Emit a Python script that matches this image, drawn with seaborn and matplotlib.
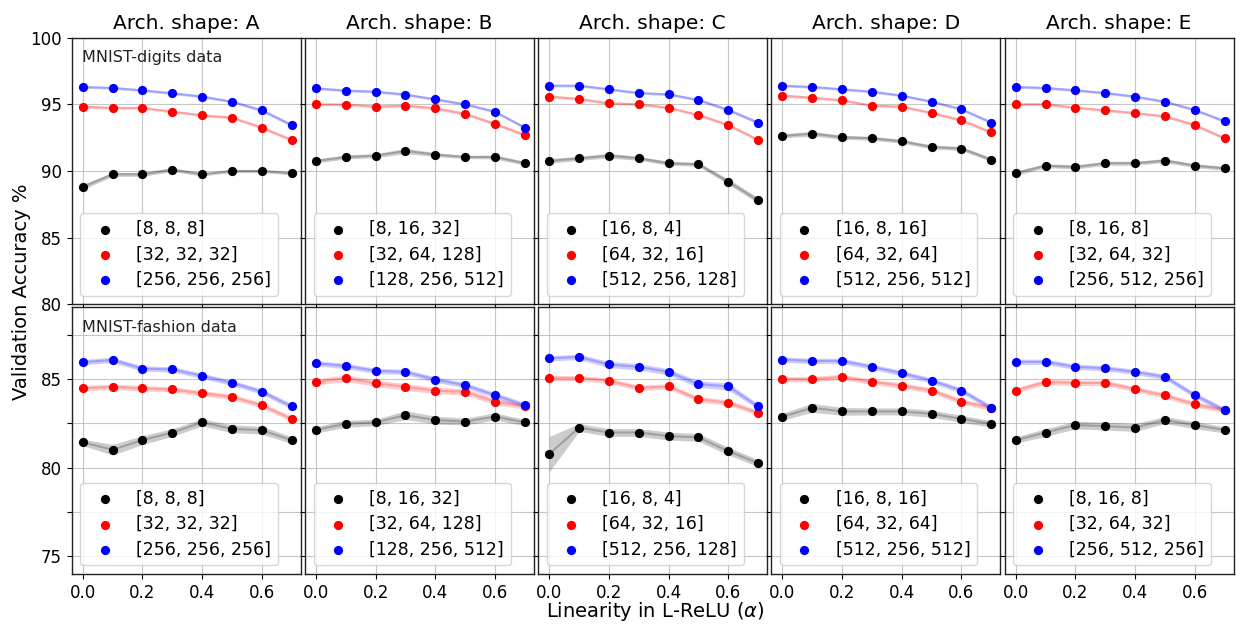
import matplotlib
matplotlib.use("Agg")
import matplotlib.pyplot as plt
import seaborn as sns
import pandas as pd
from matplotlib.ticker import MultipleLocator, FuncFormatter

# ---------------- data ----------------
alphas = [0.0, 0.1, 0.2, 0.3, 0.4, 0.5, 0.6, 0.7]
shapes = ["A", "B", "C", "D", "E"]
colors = ["black", "red", "blue"]

arch_A = ["[8, 8, 8]", "[32, 32, 32]", "[256, 256, 256]"]
arch_B = ["[8, 16, 32]", "[32, 64, 128]", "[128, 256, 512]"]
arch_C = ["[16, 8, 4]", "[64, 32, 16]", "[512, 256, 128]"]
arch_D = ["[16, 8, 16]", "[64, 32, 64]", "[512, 256, 512]"]
arch_E = ["[8, 16, 8]", "[32, 64, 32]", "[256, 512, 256]"]

# MNIST-digits (rows: black, red, blue)
digits_A = [[88.80, 89.75, 89.75, 90.10, 89.75, 90.00, 90.00, 89.83],
            [94.83, 94.73, 94.73, 94.45, 94.18, 94.00, 93.25, 92.33],
            [96.30, 96.23, 96.05, 95.83, 95.58, 95.20, 94.55, 93.45]]
digits_B = [[90.75, 91.05, 91.15, 91.50, 91.23, 91.05, 91.05, 90.58],
            [95.00, 94.98, 94.83, 94.90, 94.70, 94.28, 93.53, 92.70],
            [96.20, 96.03, 95.95, 95.73, 95.38, 95.00, 94.45, 93.25]]
digits_C = [[90.75, 90.95, 91.15, 90.95, 90.58, 90.50, 89.20, 87.80],
            [95.58, 95.40, 95.08, 95.00, 94.75, 94.20, 93.45, 92.33],
            [96.40, 96.40, 96.13, 95.85, 95.75, 95.33, 94.58, 93.63]]
digits_D = [[92.63, 92.80, 92.53, 92.45, 92.23, 91.80, 91.68, 90.85],
            [95.65, 95.50, 95.30, 94.90, 94.83, 94.35, 93.80, 92.90],
            [96.40, 96.30, 96.13, 95.95, 95.65, 95.20, 94.63, 93.63]]
digits_E = [[89.83, 90.40, 90.30, 90.58, 90.58, 90.78, 90.40, 90.20],
            [95.00, 95.00, 94.75, 94.55, 94.35, 94.10, 93.45, 92.45],
            [96.30, 96.23, 96.05, 95.85, 95.58, 95.20, 94.58, 93.73]]

# band half-widths, MNIST-digits
digits_A_err = [[0.20, 0.15, 0.15, 0.15, 0.12, 0.12, 0.12, 0.12],
                [0.12, 0.10, 0.10, 0.10, 0.10, 0.10, 0.12, 0.12],
                [0.10, 0.10, 0.10, 0.10, 0.10, 0.10, 0.12, 0.12]]
digits_B_err = [[0.15, 0.15, 0.15, 0.20, 0.15, 0.12, 0.15, 0.15],
                [0.10, 0.10, 0.10, 0.10, 0.12, 0.12, 0.12, 0.12],
                [0.10, 0.10, 0.10, 0.10, 0.10, 0.10, 0.10, 0.12]]
digits_C_err = [[0.18, 0.15, 0.18, 0.15, 0.15, 0.15, 0.20, 0.22],
                [0.12, 0.10, 0.10, 0.10, 0.10, 0.10, 0.12, 0.12],
                [0.10, 0.10, 0.10, 0.10, 0.10, 0.10, 0.12, 0.12]]
digits_D_err = [[0.15, 0.18, 0.15, 0.15, 0.15, 0.15, 0.15, 0.15],
                [0.12, 0.10, 0.10, 0.10, 0.10, 0.10, 0.12, 0.12],
                [0.10, 0.10, 0.10, 0.10, 0.10, 0.10, 0.10, 0.12]]
digits_E_err = [[0.18, 0.15, 0.15, 0.15, 0.15, 0.15, 0.15, 0.15],
                [0.10, 0.10, 0.10, 0.10, 0.10, 0.10, 0.12, 0.12],
                [0.10, 0.10, 0.10, 0.10, 0.10, 0.10, 0.10, 0.12]]

# MNIST-fashion (rows: black, red, blue)
fashion_A = [[81.43, 81.02, 81.56, 81.99, 82.56, 82.20, 82.12, 81.56],
             [84.49, 84.57, 84.49, 84.42, 84.21, 84.00, 83.53, 82.76],
             [85.96, 86.09, 85.60, 85.55, 85.19, 84.79, 84.30, 83.46]]
fashion_B = [[82.14, 82.48, 82.56, 82.97, 82.69, 82.61, 82.89, 82.56],
             [84.85, 85.06, 84.77, 84.57, 84.36, 84.29, 83.74, 83.46],
             [85.90, 85.75, 85.47, 85.41, 84.98, 84.66, 84.10, 83.53]]
fashion_C = [[80.77, 82.27, 81.99, 81.99, 81.79, 81.71, 80.94, 80.26],
             [85.06, 85.06, 84.92, 84.51, 84.59, 83.87, 83.67, 83.10],
             [86.18, 86.26, 85.83, 85.70, 85.41, 84.72, 84.59, 83.46]]
fashion_D = [[82.89, 83.38, 83.18, 83.18, 83.18, 83.05, 82.76, 82.48],
             [85.00, 85.00, 85.13, 84.85, 84.64, 84.36, 83.74, 83.38],
             [86.11, 86.03, 86.03, 85.70, 85.34, 84.92, 84.36, 83.38]]
fashion_E = [[81.56, 81.99, 82.41, 82.35, 82.27, 82.69, 82.41, 82.14],
             [84.36, 84.85, 84.79, 84.79, 84.44, 84.08, 83.59, 83.25],
             [85.98, 85.98, 85.70, 85.62, 85.41, 85.13, 84.10, 83.25]]

# band half-widths, MNIST-fashion
fashion_A_err = [[0.18, 0.30, 0.25, 0.22, 0.20, 0.22, 0.22, 0.20],
                 [0.15, 0.15, 0.15, 0.15, 0.15, 0.15, 0.15, 0.15],
                 [0.15, 0.15, 0.15, 0.15, 0.15, 0.15, 0.15, 0.15]]
fashion_B_err = [[0.18, 0.20, 0.18, 0.25, 0.22, 0.20, 0.20, 0.18],
                 [0.18, 0.18, 0.18, 0.18, 0.18, 0.18, 0.18, 0.15],
                 [0.15, 0.15, 0.15, 0.15, 0.15, 0.15, 0.15, 0.15]]
fashion_C_err = [[1.00, 0.22, 0.22, 0.22, 0.22, 0.22, 0.22, 0.20],
                 [0.15, 0.15, 0.15, 0.15, 0.15, 0.15, 0.15, 0.15],
                 [0.15, 0.15, 0.18, 0.18, 0.18, 0.18, 0.20, 0.15]]
fashion_D_err = [[0.20, 0.25, 0.22, 0.20, 0.20, 0.20, 0.20, 0.18],
                 [0.15, 0.15, 0.15, 0.15, 0.15, 0.15, 0.15, 0.15],
                 [0.15, 0.15, 0.15, 0.15, 0.15, 0.15, 0.15, 0.15]]
fashion_E_err = [[0.18, 0.22, 0.22, 0.22, 0.22, 0.20, 0.20, 0.18],
                 [0.15, 0.15, 0.15, 0.15, 0.15, 0.15, 0.15, 0.15],
                 [0.15, 0.15, 0.15, 0.15, 0.15, 0.15, 0.15, 0.15]]

archs = [arch_A, arch_B, arch_C, arch_D, arch_E]
digits = [digits_A, digits_B, digits_C, digits_D, digits_E]
digits_err = [digits_A_err, digits_B_err, digits_C_err, digits_D_err, digits_E_err]
fashion = [fashion_A, fashion_B, fashion_C, fashion_D, fashion_E]
fashion_err = [fashion_A_err, fashion_B_err, fashion_C_err, fashion_D_err, fashion_E_err]

# ---------------- figure ----------------
plt.rcParams["font.family"] = ["DejaVu Sans"]
fig, axes = plt.subplots(2, 5, figsize=(12.36, 6.27), dpi=100, sharex=True, sharey="row")
fig.subplots_adjust(left=0.058, right=0.998, top=0.940, bottom=0.0845,
                    wspace=0.019, hspace=0.011)

rows = [(digits, digits_err, "MNIST-digits data"),
        (fashion, fashion_err, "MNIST-fashion data")]

for r, (means_all, errs_all, tag) in enumerate(rows):
    for c in range(5):
        ax = axes[r, c]
        ax.set_axisbelow(True)
        ax.grid(True, color="#b0b0b0", lw=0.8, alpha=0.7)
        for s in range(3):
            mean = means_all[c][s]
            err = errs_all[c][s]
            recs = []
            for x, m, e in zip(alphas, mean, err):
                recs += [(x, m - e), (x, m), (x, m + e)]
            df = pd.DataFrame(recs, columns=["alpha", "acc"])
            sns.lineplot(data=df, x="alpha", y="acc", estimator="median",
                         errorbar=("pi", 100), color=colors[s], alpha=0.22,
                         lw=1.5, legend=False, ax=ax,
                         err_kws={"alpha": 0.2, "linewidth": 0})
            sns.scatterplot(x=alphas, y=mean, color=colors[s], s=44,
                            linewidth=0, label=archs[c][s], ax=ax, zorder=3)
        ax.legend(loc="lower left", fontsize=12.5, handletextpad=0.8,
                  labelspacing=0.42)
        ax.set_xlabel("")
        ax.set_ylabel("")
        for sp in ax.spines.values():
            sp.set_color("#222222")
            sp.set_linewidth(1.0)
        if r == 0:
            ax.set_title(f"Arch. shape: {shapes[c]}", fontsize=14.5)
        if c == 0:
            ax.text(0.045, 0.925, tag, transform=ax.transAxes, fontsize=11.5,
                    ha="left", va="center", color="#222222")

ax0 = axes[0, 0]
ax0.set_ylim(80, 100)
ax0.yaxis.set_major_locator(MultipleLocator(5))
ax1 = axes[1, 0]
ax1.set_ylim(74, 89.06)
ax1.yaxis.set_major_locator(MultipleLocator(2.5))
ax1.yaxis.set_major_formatter(FuncFormatter(
    lambda v, p: f"{v:.0f}" if abs(v / 5 - round(v / 5)) < 1e-6 else ""))
ax0.set_xlim(-0.037, 0.73)
ax0.xaxis.set_major_locator(MultipleLocator(0.2))
ax0.xaxis.set_major_formatter(FuncFormatter(lambda v, p: f"{v:.1f}"))

for ax in axes.flat:
    ax.tick_params(labelsize=12)

fig.text(0.017, 0.534, "Validation Accuracy %", rotation=90, ha="center",
         va="center", fontsize=14)
fig.text(0.530, 0.024, r"Linearity in L-ReLU ($\alpha$)", ha="center",
         va="center", fontsize=14)

fig.savefig("out.png", dpi=100)
